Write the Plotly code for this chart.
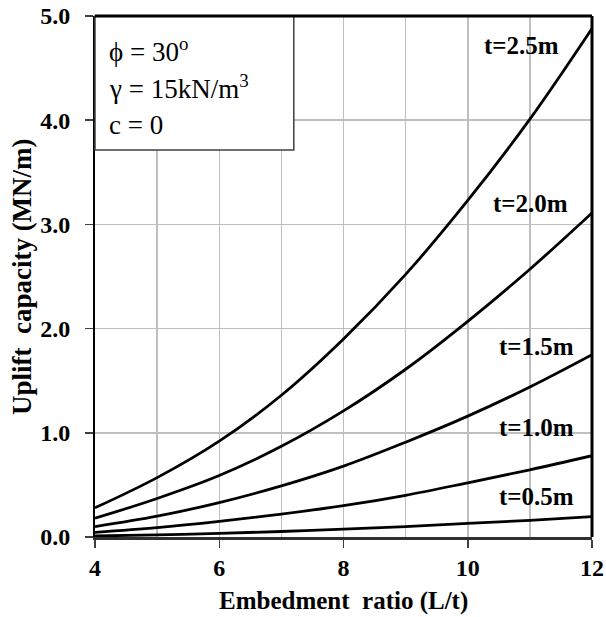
import plotly.graph_objects as go

# ---- data ----
embedment_ratio = [4, 5, 6, 7, 8, 9, 10, 11, 12]
cap_t05 = [0.01, 0.02, 0.035, 0.053, 0.075, 0.10, 0.13, 0.16, 0.195]
cap_t10 = [0.045, 0.09, 0.15, 0.22, 0.30, 0.40, 0.52, 0.645, 0.78]
cap_t15 = [0.10, 0.20, 0.33, 0.49, 0.68, 0.91, 1.16, 1.44, 1.75]
cap_t20 = [0.18, 0.37, 0.59, 0.87, 1.21, 1.61, 2.07, 2.57, 3.11]
cap_t25 = [0.28, 0.57, 0.92, 1.36, 1.90, 2.52, 3.23, 4.01, 4.88]

series_names = ["t=0.5m", "t=1.0m", "t=1.5m", "t=2.0m", "t=2.5m"]
series_values = [cap_t05, cap_t10, cap_t15, cap_t20, cap_t25]
label_x = [11.10, 11.10, 11.10, 11.01, 10.87]
label_y = [0.39, 1.05, 1.83, 3.20, 4.72]

x_ticks = [4, 6, 8, 10, 12]
y_ticks = [0, 1, 2, 3, 4, 5]
y_ticktext = ["0.0", "1.0", "2.0", "3.0", "4.0", "5.0"]

x_title = "Embedment  ratio (L/t)"
y_title = "Uplift  capacity (MN/m)"
box_lines = ["ϕ = 30<sup>o</sup>", "γ = 15kN/m<sup>3</sup>", "c = 0"]

FONT = "Liberation Serif, Times New Roman, serif"

fig = go.Figure()
for name, vals in zip(series_names, series_values):
    fig.add_trace(go.Scatter(
        x=embedment_ratio, y=vals, mode="lines", name=name,
        line=dict(color="black", width=2.8, shape="spline", smoothing=1.0),
        showlegend=False, hoverinfo="skip"))

for name, lx, ly in zip(series_names, label_x, label_y):
    fig.add_annotation(x=lx, y=ly, xref="x", yref="y", text=f"<b>{name}</b>",
                       showarrow=False, xanchor="center", yanchor="middle",
                       font=dict(family=FONT, size=25, color="black"))

# parameter box
fig.add_shape(type="rect", xref="paper", yref="paper", x0=0, x1=0.40, y0=0.743, y1=1.0,
              line=dict(color="#404040", width=1.5), fillcolor="white", layer="above")
box_y = [0.9356, 0.864, 0.791]
for txt, by in zip(box_lines, box_y):
    fig.add_annotation(x=0.024, y=by, xref="paper", yref="paper", text=txt,
                       showarrow=False, xanchor="left", yanchor="middle",
                       font=dict(family=FONT, size=27, color="black"))

# axis titles
fig.add_annotation(x=-0.1477, y=0.5, xref="paper", yref="paper", text=f"<b>{y_title}</b>",
                   textangle=-90, showarrow=False, xanchor="center", yanchor="middle",
                   font=dict(family=FONT, size=27, color="black"))
fig.add_annotation(x=0.5, y=-0.122, xref="paper", yref="paper", text=f"<b>{x_title}</b>",
                   showarrow=False, xanchor="center", yanchor="middle",
                   font=dict(family=FONT, size=25, color="black"))

# top and right frame lines
fig.add_shape(type="line", xref="paper", yref="paper", x0=0, x1=1, y0=1, y1=1,
              line=dict(color="black", width=3), layer="above")
fig.add_shape(type="line", xref="paper", yref="paper", x0=1, x1=1, y0=0, y1=1,
              line=dict(color="black", width=3), layer="above")

grid = "#bfbfbf"
fig.update_layout(
    width=606, height=617,
    margin=dict(l=95, r=14, t=16, b=80),
    paper_bgcolor="white", plot_bgcolor="white",
    font=dict(family=FONT, color="black"),
    hovermode=False,
    xaxis=dict(
        range=[4, 12], tickvals=x_ticks, ticktext=[f"<b>{v}</b>" for v in x_ticks],
        showgrid=True, gridcolor=grid, gridwidth=1.5,
        minor=dict(dtick=1, showgrid=True, gridcolor=grid, gridwidth=1.5, ticks=""),
        ticks="outside", ticklen=8, tickwidth=1.5, tickcolor="#404040",
        showline=True, linecolor="#303030", linewidth=2.5,
        tickfont=dict(family=FONT, size=24, color="black"),
        ticklabelstandoff=0, automargin=False,
        zeroline=False,
    ),
    yaxis=dict(
        range=[0, 5], tickvals=y_ticks, ticktext=[f"<b>{t}</b>" for t in y_ticktext],
        showgrid=True, gridcolor=grid, gridwidth=1.5,
        ticks="outside", ticklen=8, tickwidth=1.5, tickcolor="#404040",
        showline=True, linecolor="black", linewidth=2,
        tickfont=dict(family=FONT, size=24, color="black"),
        ticklabelstandoff=10, automargin=False,
        zeroline=False,
    ),
)

fig.write_html("out.html", config={"displayModeBar": False, "staticPlot": True},
               post_script="document.body.style.margin='0';document.body.style.overflow='hidden';")
